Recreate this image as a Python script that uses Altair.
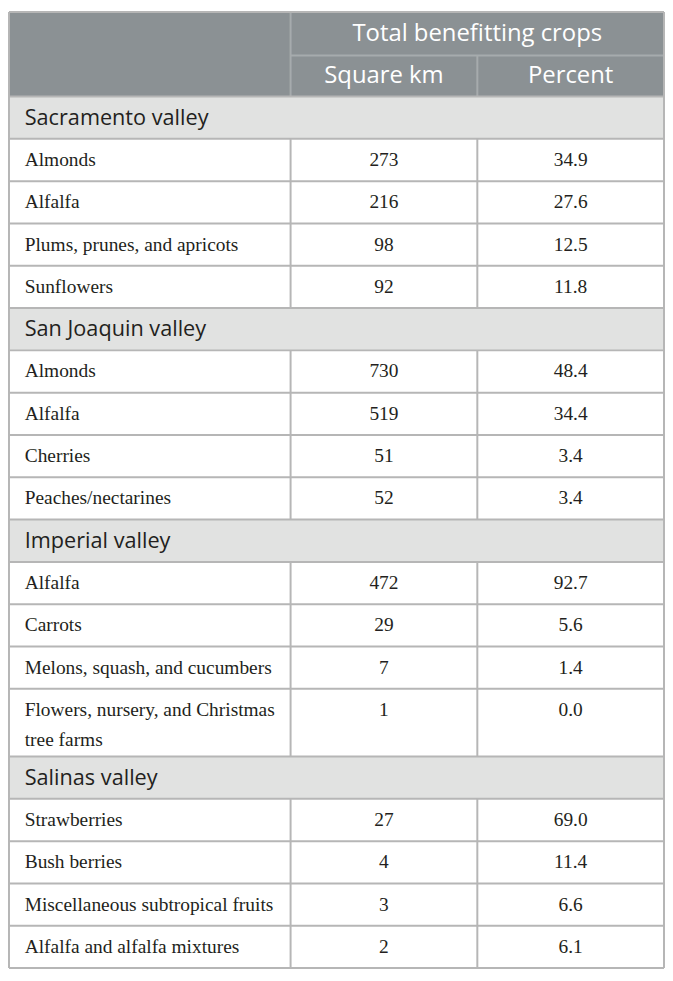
import altair as alt
import pandas as pd

# ---------------- data ----------------
header_top = "Total benefitting crops"
header_cols = ["Square km", "Percent"]
sections = ["Sacramento valley", "San Joaquin valley", "Imperial valley", "Salinas valley"]
crops = [
    ["Almonds", "Alfalfa", "Plums, prunes, and apricots", "Sunflowers"],
    ["Almonds", "Alfalfa", "Cherries", "Peaches/nectarines"],
    ["Alfalfa", "Carrots", "Melons, squash, and cucumbers",
     "Flowers, nursery, and Christmas\ntree farms"],
    ["Strawberries", "Bush berries", "Miscellaneous subtropical fruits",
     "Alfalfa and alfalfa mixtures"],
]
square_km = [[273, 216, 98, 92], [730, 519, 51, 52], [472, 29, 7, 1], [27, 4, 3, 2]]
percent = [[34.9, 27.6, 12.5, 11.8], [48.4, 34.4, 3.4, 3.4],
           [92.7, 5.6, 1.4, 0.0], [69.0, 11.4, 6.6, 6.1]]

# ---------------- layout ----------------
W, H = 659, 962
EDGES = [0.0, 0.4299, 0.715, 1.0]
PAD = 0.024
HEAD = [1.03, 0.97]
EXTRA_LINE = 0.6

HEADER_BG = "#8b9194"
HEADER_LINE = "#a6abad"
SECTION_BG = "#e1e2e1"
BODY_LINE = "#b6b6b6"
TEXT = "#231f20"

rects, rules, head_txt, sec_txt, crop_txt, num_txt = [], [], [], [], [], []

hb = HEAD[0] + HEAD[1]
rects.append(dict(x=0, x2=1, y=0, y2=hb, fill=HEADER_BG))
rules += [
    dict(x=EDGES[1], x2=EDGES[1], y=0, y2=hb, c=HEADER_LINE),
    dict(x=EDGES[1], x2=1, y=HEAD[0], y2=HEAD[0], c=HEADER_LINE),
    dict(x=EDGES[2], x2=EDGES[2], y=HEAD[0], y2=hb, c=HEADER_LINE),
]
head_txt.append(dict(x=(EDGES[1] + 1) / 2, y=HEAD[0] / 2, t=header_top))
for i, h in enumerate(header_cols):
    head_txt.append(dict(x=(EDGES[i + 1] + EDGES[i + 2]) / 2, y=HEAD[0] + HEAD[1] / 2, t=h))

y = hb
for s, name in enumerate(sections):
    rects.append(dict(x=0, x2=1, y=y, y2=y + 1, fill=SECTION_BG))
    rules.append(dict(x=0, x2=1, y=y, y2=y, c=BODY_LINE))
    sec_txt.append(dict(x=PAD, y=y + 0.5, t=name))
    y += 1
    for j, crop in enumerate(crops[s]):
        nlines = crop.count("\n") + 1
        h = 1 + EXTRA_LINE * (nlines - 1)
        rects.append(dict(x=0, x2=1, y=y, y2=y + h, fill="#ffffff"))
        rules.append(dict(x=0, x2=1, y=y, y2=y, c=BODY_LINE))
        for e in EDGES[1:3]:
            rules.append(dict(x=e, x2=e, y=y, y2=y + h, c=BODY_LINE))
        crop_txt.append(dict(x=PAD, y=y + 0.5, t=crop))
        num_txt.append(dict(x=(EDGES[1] + EDGES[2]) / 2, y=y + 0.5, t=str(square_km[s][j])))
        num_txt.append(dict(x=(EDGES[2] + EDGES[3]) / 2, y=y + 0.5, t=f"{percent[s][j]:.1f}"))
        y += h
TOTAL = y
rules += [
    dict(x=0, x2=1, y=TOTAL, y2=TOTAL, c=BODY_LINE),
    dict(x=0, x2=0, y=0, y2=TOTAL, c=BODY_LINE),
    dict(x=1, x2=1, y=0, y2=TOTAL, c=BODY_LINE),
    dict(x=0, x2=1, y=0, y2=0, c=BODY_LINE),
]

xs = alt.Scale(domain=[0, 1], nice=False, zero=False)
ys = alt.Scale(domain=[0, TOTAL], nice=False, zero=False, reverse=True)

rect_layer = alt.Chart(pd.DataFrame(rects)).mark_rect(strokeWidth=0).encode(
    x=alt.X("x:Q", scale=xs, axis=None), x2="x2:Q",
    y=alt.Y("y:Q", scale=ys, axis=None), y2="y2:Q",
    color=alt.Color("fill:N", scale=None),
)
rule_layer = alt.Chart(pd.DataFrame(rules)).mark_rule(strokeWidth=2).encode(
    x=alt.X("x:Q", scale=xs, axis=None), x2="x2:Q",
    y=alt.Y("y:Q", scale=ys, axis=None), y2="y2:Q",
    color=alt.Color("c:N", scale=None),
)


def text_layer(rows, **kw):
    return alt.Chart(pd.DataFrame(rows)).mark_text(**kw).encode(
        x=alt.X("x:Q", scale=xs, axis=None),
        y=alt.Y("y:Q", scale=ys, axis=None),
        text="t:N",
    )


head_layer = text_layer(head_txt, font="Open Sans", fontSize=24, color="#ffffff",
                        align="center", baseline="middle")
sec_layer = text_layer(sec_txt, font="Open Sans", fontSize=21.8, color=TEXT,
                       align="left", baseline="middle")
crop_layer = text_layer(crop_txt, font="Liberation Serif", fontSize=19.5, color=TEXT,
                        align="left", baseline="middle", lineBreak="\n", lineHeight=30)
num_layer = text_layer(num_txt, font="Liberation Serif", fontSize=19.5, color=TEXT,
                       align="center", baseline="middle")

chart = alt.layer(rect_layer, rule_layer, head_layer, sec_layer, crop_layer, num_layer).properties(
    width=W, height=H, padding=0
).configure_view(stroke=None)

chart.save("out.html", embed_options={"renderer": "svg", "actions": False})
